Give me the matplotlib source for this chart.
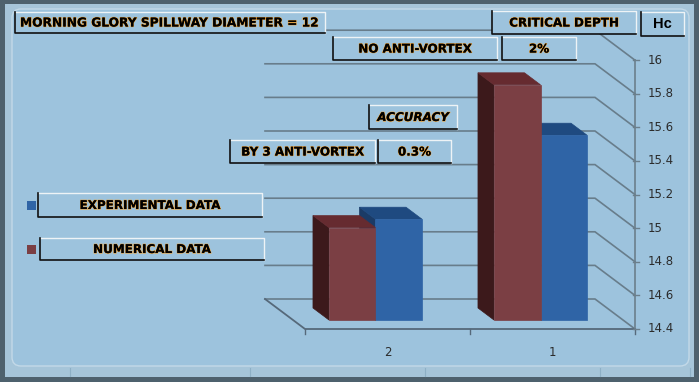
import matplotlib
matplotlib.use("Agg")
import matplotlib.pyplot as plt
import matplotlib.patheffects as pe
from matplotlib.patches import Polygon, Rectangle, FancyBboxPatch

# ---------------- data ----------------
categories = ["2", "1"]
experimental = [15.0, 15.5]     # blue
numerical = [14.95, 15.8]       # red
yticks = [14.4, 14.6, 14.8, 15.0, 15.2, 15.4, 15.6, 15.8, 16.0]
ytick_labels = ["14.4", "14.6", "14.8", "15", "15.2", "15.4", "15.6", "15.8", "16"]
ymin, ymax = 14.4, 16.0

title_text = "MORNING GLORY SPILLWAY DIAMETER = 12"
legend_labels = ["EXPERIMENTAL DATA", "NUMERICAL DATA"]

# ---------------- layout (pixels) ----------------
W, H = 699, 382
X_PX0, X_SCALE = 305, 165.0     # front x=0 position, px per category
Y_PX0, Y_SCALE = 329, 168.0     # front ymin position, px per value unit
DDX = -40 / X_SCALE             # full depth offset in data units
DDY = 30 / Y_SCALE
F0, F1 = 0.3, 0.7               # bar depth range
BAR_W = 0.282

BG = "#9dc3dd"
GRID = "#687d8b"

fig = plt.figure(figsize=(W / 100, H / 100), dpi=100)
fig.patch.set_facecolor("#4e616d")
ax = fig.add_axes([0, 0, 1, 1])
ax.axis("off")
ax.patch.set_alpha(0)

PT = fig.dpi_scale_trans


def P(x, y):
    return (x / 100.0, (H - y) / 100.0)


# background frame
ax.add_patch(Rectangle(P(5, 377), (694 - 5) / 100, (377 - 4) / 100, transform=PT,
                       facecolor="#a6c5d9", edgecolor="none", zorder=-20))
for gx in [70, 250, 425, 600, 690]:
    ax.plot([P(gx, 368)[0], P(gx, 376)[0]], [P(gx, 368)[1], P(gx, 376)[1]],
            transform=PT, color="#8eb0c6", lw=0.8, zorder=-19)
ax.add_patch(FancyBboxPatch(P(12, 366), (689 - 12) / 100, (366 - 9) / 100,
                            boxstyle="round,pad=0,rounding_size=0.09", transform=PT,
                            facecolor=BG, edgecolor="#c3d9e8", lw=1.0, zorder=-18))

# ---------------- walls / gridlines ----------------
n = len(categories)
for v in yticks:
    ax.plot([0 + DDX, n + DDX, n], [v + DDY, v + DDY, v], color=GRID, lw=1.2,
            zorder=1, solid_joinstyle="miter")
# floor
ax.plot([n, 0, 0 + DDX], [ymin, ymin, ymin + DDY], color="#56697a", lw=1.3, zorder=1)
# category ticks
for i in range(n + 1):
    ax.plot([i, i], [ymin, ymin - 5 / Y_SCALE], color="#56697a", lw=1.0, zorder=1)
# value axis
ax.plot([n, n], [ymin, ymax], color="#6b7f8c", lw=1.2, zorder=1)
for v, lab in zip(yticks, ytick_labels):
    ax.plot([n - 2 / X_SCALE, n + 4 / X_SCALE], [v, v], color="#6b7f8c", lw=1.0, zorder=1)
    ax.text(n + 13 / X_SCALE, v, lab, ha="left", va="center", fontsize=8.5,
            color="#2b2b2b", zorder=2)
for i, c in enumerate(categories):
    ax.text(i + 0.5, ymin - 23 / Y_SCALE, c, ha="center", va="center", fontsize=8.5,
            color="#2b2b2b", zorder=2)


# ---------------- bars ----------------
def draw_box(xl, xr, top, front_c, top_c, side_c, z):
    ax0, ay0 = F0 * DDX, F0 * DDY
    ax1, ay1 = F1 * DDX, F1 * DDY
    side = [(xl + ax0, ymin + ay0), (xl + ax0, top + ay0), (xl + ax1, top + ay1), (xl + ax1, ymin + ay1)]
    topf = [(xl + ax0, top + ay0), (xr + ax0, top + ay0), (xr + ax1, top + ay1), (xl + ax1, top + ay1)]
    front = [(xl + ax0, ymin + ay0), (xr + ax0, ymin + ay0), (xr + ax0, top + ay0), (xl + ax0, top + ay0)]
    for poly, col in [(side, side_c), (topf, top_c), (front, front_c)]:
        ax.add_patch(Polygon(poly, closed=True, facecolor=col, edgecolor=col, lw=0.5, zorder=z))


for i in range(n):
    c = i + 0.5
    draw_box(c, c + BAR_W, experimental[i], "#2f64a6", "#1f4a80", "#1b3b66", 3)
    draw_box(c - BAR_W, c, numerical[i], "#7b3f44", "#662b30", "#3c191b", 4)

ax.set_xlim(-X_PX0 / X_SCALE, (W - X_PX0) / X_SCALE)
ax.set_ylim(ymin - (H - Y_PX0) / Y_SCALE, ymin + Y_PX0 / Y_SCALE)

# ---------------- text boxes ----------------
halo = [pe.withStroke(linewidth=0.9, foreground="#e9a23c"), pe.Normal()]


def text_box(x0, y0, x1, y1, txt, tx=None, ha="center", style="normal", size=8.6,
             effects=halo, family="DejaVu Sans", weight="bold"):
    ax.add_patch(Rectangle(P(x0, y1), (x1 - x0) / 100, (y1 - y0) / 100, transform=PT,
                           facecolor=BG, edgecolor="none", zorder=8))
    ax.plot([P(x0, y0)[0], P(x1, y0)[0], P(x1, y1)[0]], [P(x0, y0)[1], P(x1, y0)[1], P(x1, y1)[1]],
            transform=PT, color="#eef3f6", lw=1.0, zorder=9)
    ax.plot([P(x0, y0)[0], P(x0, y1)[0], P(x1, y1)[0]], [P(x0, y0)[1], P(x0, y1)[1], P(x1, y1)[1]],
            transform=PT, color="#111111", lw=1.2, zorder=9)
    if tx is None:
        tx = (x0 + x1) / 2
    t = ax.text(*P(tx, (y0 + y1) / 2 + 0.5), txt, transform=PT, ha=ha, va="center",
                fontsize=size, fontweight=weight, fontstyle=style, family=family,
                color="black", zorder=10)
    if effects:
        t.set_path_effects(effects)


text_box(15, 12, 325, 33, title_text, tx=20, ha="left", size=8.8)
text_box(492, 11, 636, 34, "CRITICAL DEPTH")
text_box(641, 12, 684, 36, "Hc", effects=None, family="Liberation Sans", weight="bold", size=10.5)
text_box(333, 37, 497, 60, "NO ANTI-VORTEX")
text_box(502, 37, 576, 60, "2%")
text_box(369, 105, 457, 129, "ACCURACY", style="italic")
text_box(230, 140, 375, 163, "BY 3 ANTI-VORTEX")
text_box(378, 140, 451, 163, "0.3%")
text_box(38, 193, 262, 217, legend_labels[0])
text_box(40, 238, 264, 260, legend_labels[1])

# legend swatches
ax.add_patch(Rectangle(P(27, 210), 0.085, 0.09, transform=PT, facecolor="#2f64a6",
                       edgecolor="none", zorder=10))
ax.add_patch(Rectangle(P(27, 254), 0.085, 0.09, transform=PT, facecolor="#7b3f44",
                       edgecolor="none", zorder=10))

fig.savefig("out.png", dpi=100, facecolor=fig.get_facecolor())
